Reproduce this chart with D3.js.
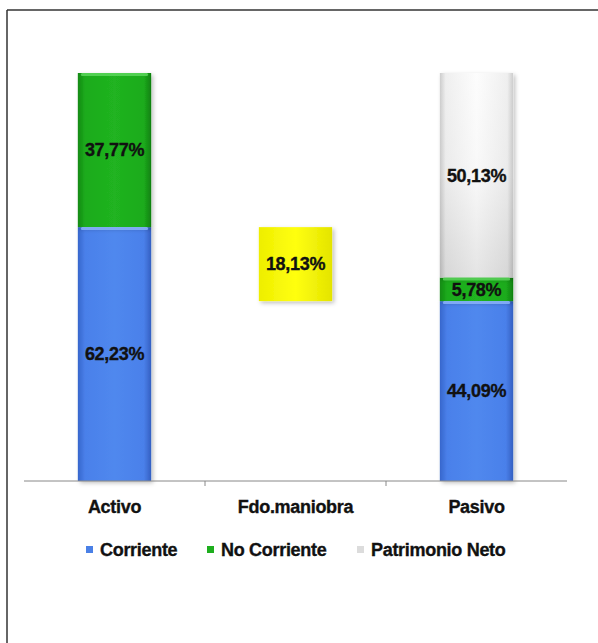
<!DOCTYPE html>
<html lang="es">
<head>
<meta charset="utf-8">
<title>Activo / Fdo. maniobra / Pasivo</title>
<script src="https://cdn.jsdelivr.net/npm/d3@7"></script>
<style>
  body { margin: 0; background: #fff; }
  text { font-family: "Liberation Sans", Arial, sans-serif; font-weight: bold; fill: #111; stroke: #111; stroke-width: 0.35px; }
</style>
</head>
<body>
<script>
// data
var categories = ["Activo", "Fdo.maniobra", "Pasivo"];
var corriente = [62.23, 0, 44.09];
var noCorriente = [37.77, 0, 5.78];
var patrimonio = [0, 0, 50.13];
var fondoManiobra = [0, 18.13, 0];
var seriesNames = ["Corriente", "No Corriente", "Patrimonio Neto"];

var w = 598, h = 643;
var svg = d3.select("body").append("svg")
  .attr("width", w).attr("height", h);

var defs = svg.append("defs");

// gradients to imitate the bevelled look
function grad(id, stops, vertical) {
  var g = defs.append("linearGradient").attr("id", id)
    .attr("x1", 0).attr("y1", 0)
    .attr("x2", vertical ? 0 : 1).attr("y2", vertical ? 1 : 0);
  stops.forEach(function(s) {
    g.append("stop").attr("offset", s[0]).attr("stop-color", s[1]);
  });
}
grad("gBlue", [[0, "#3766cc"], [0.1, "#4a80ea"], [0.5, "#5088ee"], [0.9, "#4a80ea"], [1, "#345fc2"]]);
grad("gGreen", [[0, "#128a12"], [0.1, "#1cab1c"], [0.5, "#20b320"], [0.9, "#1cab1c"], [1, "#108010"]]);
grad("gGray", [[0, "#fafafa"], [0.5, "#f0f0f0"], [1, "#c4c4c4"]], true);
grad("gGrayH", [[0, "#a8a8a8"], [0.08, "#e6e6e6"], [0.5, "#ffffff"], [0.92, "#e6e6e6"], [1, "#a8a8a8"]]);
grad("gYellow", [[0, "#eeee00"], [0.5, "#ffff10"], [1, "#e4e400"]]);

var shadow = defs.append("filter").attr("id", "shadow")
  .attr("x", "-20%").attr("y", "-20%").attr("width", "150%").attr("height", "150%");
shadow.append("feDropShadow").attr("dx", 2).attr("dy", 2)
  .attr("stdDeviation", 2).attr("flood-color", "#000").attr("flood-opacity", 0.25);

// outer frame (only top and left edges are visible)
svg.append("line").attr("x1", 7).attr("y1", 10).attr("x2", w).attr("y2", 10)
  .attr("stroke", "#333").attr("stroke-width", 1.5);
svg.append("line").attr("x1", 7).attr("y1", 10).attr("x2", 7).attr("y2", h)
  .attr("stroke", "#333").attr("stroke-width", 1.5);

var x = d3.scaleBand().domain(categories).range([24, 567]).padding(0);
var y = d3.scaleLinear().domain([0, 100]).range([481, 73]);
var barW = x.bandwidth() * 0.405;

function cx(d) { return x(d) + x.bandwidth() / 2; }

// build stacked segments
var segments = [];
categories.forEach(function(c, i) {
  var base = 0;
  [[corriente[i], "gBlue"], [noCorriente[i], "gGreen"], [patrimonio[i], "gGray"]].forEach(function(s) {
    if (s[0] > 0) {
      segments.push({cat: c, y0: base, y1: base + s[0], value: s[0], fill: s[1]});
      base += s[0];
    }
  });
  if (fondoManiobra[i] > 0) {
    // floating box between the Pasivo corriente and Activo corriente levels
    var lo = corriente[2];
    segments.push({cat: c, y0: lo, y1: lo + fondoManiobra[i], value: fondoManiobra[i], fill: "gYellow"});
  }
});

var g = svg.append("g");
g.selectAll("rect.seg")
  .data(segments)
  .enter()
  .append("rect")
  .attr("class", "seg")
  .attr("x", function(d) { return cx(d.cat) - barW / 2; })
  .attr("y", function(d) { return y(d.y1); })
  .attr("width", barW)
  .attr("height", function(d) { return y(d.y0) - y(d.y1); })
  .attr("fill", function(d) { return "url(#" + d.fill + ")"; })
  .attr("filter", "url(#shadow)");

// gray segment gets a horizontal sheen on top of the vertical shade
g.selectAll("rect.sheen")
  .data(segments.filter(function(d) { return d.fill === "gGray"; }))
  .enter()
  .append("rect")
  .attr("x", function(d) { return cx(d.cat) - barW / 2; })
  .attr("y", function(d) { return y(d.y1); })
  .attr("width", barW)
  .attr("height", function(d) { return y(d.y0) - y(d.y1); })
  .attr("fill", "url(#gGrayH)")
  .attr("opacity", 0.55);

// light highlight at top of blue / green segments
g.selectAll("rect.hl")
  .data(segments.filter(function(d) { return d.fill === "gBlue" || d.fill === "gGreen"; }))
  .enter()
  .append("rect")
  .attr("x", function(d) { return cx(d.cat) - barW / 2 + 3; })
  .attr("y", function(d) { return y(d.y1); })
  .attr("width", barW - 6)
  .attr("height", 3)
  .attr("rx", 1.5)
  .attr("fill", function(d) { return d.fill === "gBlue" ? "#8fb8ff" : "#5fd85f"; })
  .attr("opacity", 0.8);

// value labels
g.selectAll("text.val")
  .data(segments)
  .enter()
  .append("text")
  .attr("class", "val")
  .attr("x", function(d) { return cx(d.cat); })
  .attr("y", function(d) { return (y(d.y0) + y(d.y1)) / 2; })
  .attr("dy", "0.35em")
  .attr("text-anchor", "middle")
  .style("font-size", "18px")
  .style("letter-spacing", "-0.3px")
  .text(function(d) { return d3.format(".2f")(d.value).replace(".", ",") + "%"; });

// axis line with ticks between categories
svg.append("line")
  .attr("x1", x.range()[0]).attr("x2", x.range()[1])
  .attr("y1", y(0)).attr("y2", y(0))
  .attr("stroke", "#888").attr("stroke-width", 1);
svg.selectAll("line.tick")
  .data(categories.slice(1))
  .enter()
  .append("line")
  .attr("x1", function(d) { return x(d); })
  .attr("x2", function(d) { return x(d); })
  .attr("y1", y(0)).attr("y2", y(0) + 5)
  .attr("stroke", "#888");

svg.selectAll("text.cat")
  .data(categories)
  .enter()
  .append("text")
  .attr("x", cx)
  .attr("y", 513)
  .attr("text-anchor", "middle")
  .style("font-size", "18px")
  .style("letter-spacing", "-0.3px")
  .text(function(d) { return d; });

// legend
var legendX = [86, 207, 357];
var legendFill = ["#4a80e6", "#1eae1e", "#dcdcdc"];
var leg = svg.selectAll("g.leg")
  .data(seriesNames)
  .enter()
  .append("g")
  .attr("transform", function(d, i) { return "translate(" + legendX[i] + ",550)"; });
leg.append("rect")
  .attr("x", 0).attr("y", -4)
  .attr("width", 7).attr("height", 7)
  .attr("fill", function(d, i) { return legendFill[i]; });
leg.append("text")
  .attr("x", 14)
  .attr("dy", "0.35em")
  .style("font-size", "18px")
  .style("letter-spacing", "-0.3px")
  .text(function(d) { return d; });
</script>
</body>
</html>
